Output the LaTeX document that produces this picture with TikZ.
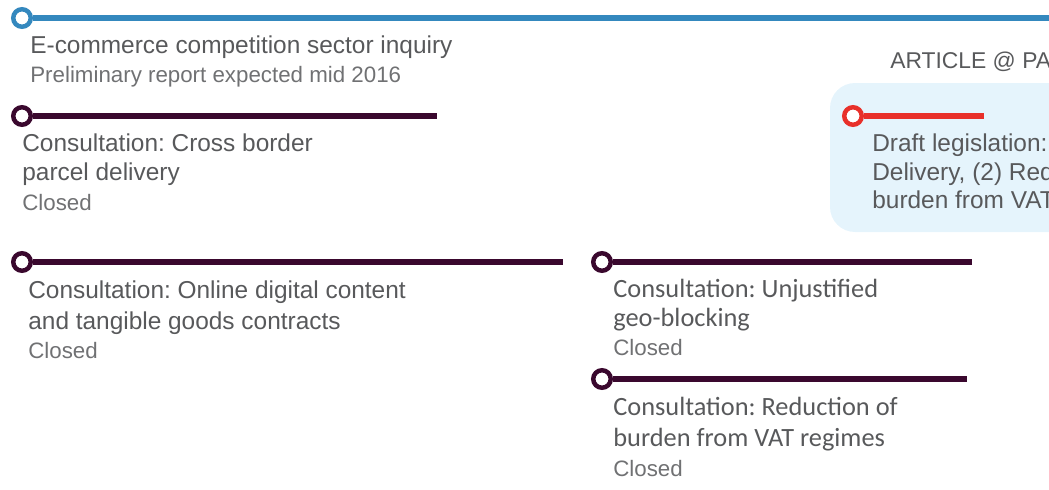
\documentclass[tikz,border=0pt]{standalone}
\usepackage{fontspec}
\setmainfont{Liberation Sans}
\newfontfamily\calibri{Carlito}
\frenchspacing
\usepackage{tikz}
\usetikzlibrary{positioning}
\definecolor{lineblue}{RGB}{52,136,190}
\definecolor{plum}{RGB}{58,8,46}
\definecolor{alertred}{RGB}{232,48,42}
\definecolor{paleblue}{RGB}{229,244,252}
\definecolor{textgrey}{RGB}{88,89,91}
\definecolor{subgrey}{RGB}{112,113,115}
\tikzset{
	ringstop/.style={circle, draw=#1, fill=white, line width=2.55pt, minimum size=0.35cm, inner sep=0pt},
	track/.style={draw=#1, line width=3.9pt},
	itemhead/.style={anchor=base west, inner sep=0pt, text=textgrey, font=\fontsize{13.9}{16}\selectfont},
	itemsub/.style={anchor=base west, inner sep=0pt, text=subgrey, font=\fontsize{12.7}{15}\selectfont},
	itemcal/.style={anchor=base west, inner sep=0pt, text=textgrey, font=\calibri\fontsize{15}{18}\selectfont}
}
\begin{document}
\begin{tikzpicture}[x=0.02cm, y=-0.02cm]
	\useasboundingbox (0,0) rectangle (1049,490);
	\clip (0,0) rectangle (1049,490);
	% highlighted box on the right
	\fill[paleblue, rounded corners=0.5cm] (830,83) rectangle (1200,232);
	\node[itemhead, font=\fontsize{13}{15}\selectfont] (art) at (890,69) {ARTICLE @ PAGE};
	% sector inquiry
	\node[ringstop=lineblue] (s1) at (22,18) {};
	\coordinate (e1) at (1060,18);
	\draw[track=lineblue] (s1) -- (e1);
	\node[itemhead] (t1a) at (30,53) {E-commerce competition sector inquiry};
	\node[itemsub] (t1b) at (30,82) {Preliminary report expected mid 2016};
	% parcel delivery
	\node[ringstop=plum] (s2) at (22,116) {};
	\coordinate (e2) at (437,116);
	\draw[track=plum] (s2) -- (e2);
	\node[itemhead] (t2a) at (22,151) {Consultation: Cross border};
	\node[itemhead] (t2b) at (22,180) {parcel delivery};
	\node[itemsub] (t2c) at (22,210) {Closed};
	% draft legislation
	\node[ringstop=alertred] (s3) at (853,116) {};
	\coordinate (e3) at (984,116);
	\draw[track=alertred] (s3) -- (e3);
	\node[itemhead] (t3a) at (872,151) {Draft legislation: (1) Parcel};
	\node[itemhead] (t3b) at (872,180) {Delivery, (2) Reduction of};
	\node[itemhead] (t3c) at (872,208) {burden from VAT regimes};
	% digital content
	\node[ringstop=plum] (s4) at (22,262) {};
	\coordinate (e4) at (563,262);
	\draw[track=plum] (s4) -- (e4);
	\node[itemhead] (t4a) at (28,298) {Consultation: Online digital content};
	\node[itemhead] (t4b) at (28,329) {and tangible goods contracts};
	\node[itemsub] (t4c) at (28,358) {Closed};
	% geo-blocking
	\node[ringstop=plum] (s5) at (602,262) {};
	\coordinate (e5) at (972,262);
	\draw[track=plum] (s5) -- (e5);
	\node[itemcal] (t5a) at (613,297) {Consultation: Unjustified};
	\node[itemcal] (t5b) at (613,326) {geo-blocking};
	\node[itemsub] (t5c) at (613,355) {Closed};
	% VAT regimes
	\node[ringstop=plum] (s6) at (602,379) {};
	\coordinate (e6) at (967,379);
	\draw[track=plum] (s6) -- (e6);
	\node[itemcal] (t6a) at (613,415) {Consultation: Reduction of};
	\node[itemcal] (t6b) at (613,446) {burden from VAT regimes};
	\node[itemsub] (t6c) at (613,476) {Closed};
\end{tikzpicture}
\end{document}
